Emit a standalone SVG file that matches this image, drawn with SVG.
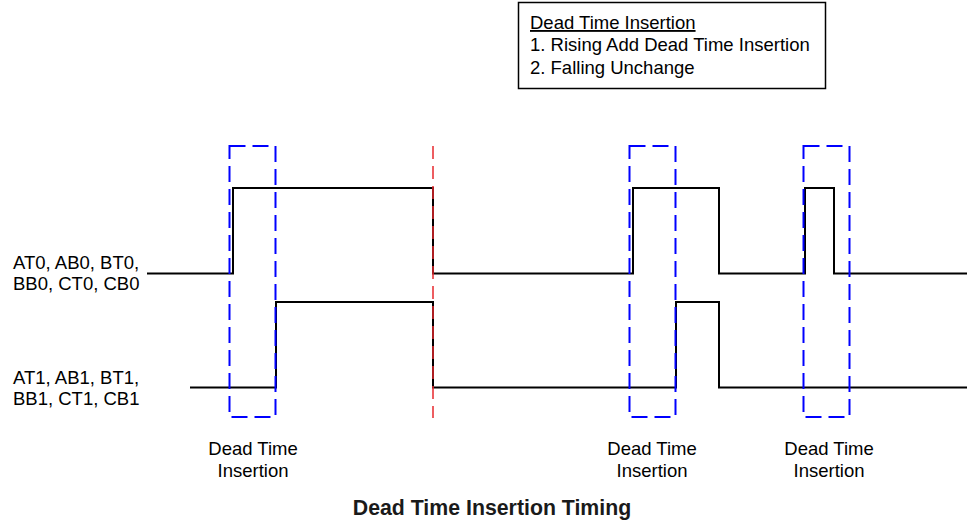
<svg xmlns="http://www.w3.org/2000/svg" width="967" height="522" viewBox="0 0 967 522">
<style>
text{font-family:"Liberation Sans",Arial,sans-serif;font-size:18.5px;fill:#000}
.c{text-anchor:middle}
.ttl{font-size:21.3px;font-weight:bold;fill:#1a1a1a}
.sig{fill:none;stroke:#000;stroke-width:2}
.dt{fill:none;stroke:#0000ff;stroke-width:2;stroke-dasharray:16 7}
.red{stroke:#e8282e;stroke-width:1.5;stroke-dasharray:13 7}
</style>
<rect width="967" height="522" fill="#fff"/>
<g id="legend">
<rect x="518.5" y="2.5" width="307" height="86" fill="#fff" stroke="#000" stroke-width="1.5"/>
<text x="530" y="29" text-decoration="underline">Dead Time Insertion</text>
<text x="530" y="51">1. Rising Add Dead Time Insertion</text>
<text x="530" y="74">2. Falling Unchange</text>
</g>
<g id="label-0">
<text x="13" y="269">AT0, AB0, BT0,</text>
<text x="13" y="290">BB0, CT0, CB0</text>
</g>
<g id="label-1">
<text x="13" y="384">AT1, AB1, BT1,</text>
<text x="13" y="405">BB1, CT1, CB1</text>
</g>
<g id="connectors">
<polyline id="signal-0" class="sig" points="147,273.5 233,273.5 233,188 433,188 433,273.5 633,273.5 633,188 719,188 719,273.5 805,273.5 805,188 834,188 834,273.5 967,273.5"/>
<polyline id="signal-1" class="sig" points="190,387.5 276,387.5 276,302 433,302 433,387.5 676,387.5 676,302 719,302 719,387.5 967,387.5"/>
<line id="red-marker" class="red" x1="433" y1="146" x2="433" y2="418"/>
</g>
<g id="dt-1">
<rect class="dt" x="229.5" y="146" width="46" height="271"/>
<text class="c" x="253" y="455">Dead Time</text>
<text class="c" x="253" y="477">Insertion</text>
</g>
<g id="dt-2">
<rect class="dt" x="629.5" y="146" width="46" height="271"/>
<text class="c" x="652" y="455">Dead Time</text>
<text class="c" x="652" y="477">Insertion</text>
</g>
<g id="dt-3">
<rect class="dt" x="803.5" y="146" width="46" height="271"/>
<text class="c" x="829" y="455">Dead Time</text>
<text class="c" x="829" y="477">Insertion</text>
</g>
<g id="title">
<text class="c ttl" x="492" y="515">Dead Time Insertion Timing</text>
</g>
</svg>
